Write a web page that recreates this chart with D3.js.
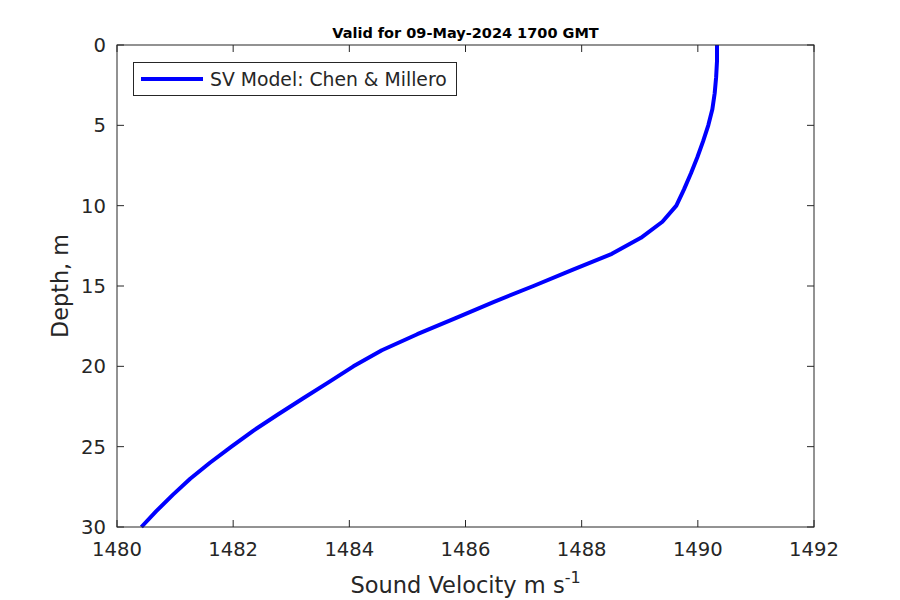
<!DOCTYPE html>
<html><head><meta charset="utf-8">
<script src="https://cdn.jsdelivr.net/npm/d3@7"></script>
<style>body{margin:0;background:#fff}svg{display:block}text{font-family:"DejaVu Sans",sans-serif;fill:#262626}</style>
</head><body>
<svg id="c" width="900" height="600"></svg>
<script>
const depths = [0,1,2,3,4,5,6,7,8,9,10,11,12,13,14,15,16,17,18,19,20,21,22,23,24,25,26,27,28,29,30];
const velocity = [1490.33,1490.33,1490.315,1490.29,1490.25,1490.18,1490.09,1489.99,1489.88,1489.76,1489.63,1489.39,1489.02,1488.52,1487.84,1487.17,1486.48,1485.83,1485.17,1484.56,1484.07,1483.64,1483.20,1482.77,1482.35,1481.97,1481.60,1481.26,1480.96,1480.68,1480.42];
const xTicks = [1480,1482,1484,1486,1488,1490,1492];
const yTicks = [0,5,10,15,20,25,30];
const titleText = "Valid for 09-May-2024 1700 GMT";
const legendText = "SV Model: Chen & Millero";

const svg = d3.select("#c");
const L=117,R=814,T=45,B=527;
const x = d3.scaleLinear().domain([1480,1492]).range([L,R]);
const y = d3.scaleLinear().domain([0,30]).range([T,B]);
const col="#262626";

// curve
const line = d3.line().x((d,i)=>x(velocity[i])).y(d=>y(d));
svg.append("path").datum(depths).attr("d",line).attr("fill","none")
  .attr("stroke","#0000ff").attr("stroke-width",4).attr("stroke-linejoin","round");

// axes box
svg.append("rect").attr("x",L).attr("y",T).attr("width",R-L).attr("height",B-T)
  .attr("fill","none").attr("stroke",col).attr("stroke-width",1);

const tl=7;
const gx=svg.append("g");
xTicks.forEach(t=>{
  gx.append("line").attr("x1",x(t)).attr("x2",x(t)).attr("y1",B).attr("y2",B-tl).attr("stroke",col);
  gx.append("line").attr("x1",x(t)).attr("x2",x(t)).attr("y1",T).attr("y2",T+tl).attr("stroke",col);
  gx.append("text").attr("x",x(t)).attr("y",B+29).attr("text-anchor","middle").attr("font-size",19.6).text(t);
});
const gy=svg.append("g");
yTicks.forEach(t=>{
  gy.append("line").attr("x1",L).attr("x2",L+tl).attr("y1",y(t)).attr("y2",y(t)).attr("stroke",col);
  gy.append("line").attr("x1",R).attr("x2",R-tl).attr("y1",y(t)).attr("y2",y(t)).attr("stroke",col);
  gy.append("text").attr("x",L-11).attr("y",y(t)).attr("dy","0.36em").attr("text-anchor","end").attr("font-size",19.6).text(t);
});

// labels
const xl=svg.append("text").attr("x",(L+R)/2).attr("y",593).attr("text-anchor","middle").attr("font-size",22.5);
xl.append("tspan").text("Sound Velocity m s");
xl.append("tspan").attr("dy",-10).attr("font-size",16).text("-1");
svg.append("text").attr("transform",`translate(68,${(T+B)/2}) rotate(-90)`).attr("text-anchor","middle").attr("font-size",22.3).text("Depth, m");
svg.append("text").attr("x",(L+R)/2).attr("y",38).attr("text-anchor","middle").attr("font-size",14.5).attr("font-weight","bold").style("fill","#000").text(titleText);

// legend
svg.append("rect").attr("x",133.5).attr("y",62.5).attr("width",323).attr("height",33).attr("fill","#fff").attr("stroke",col);
svg.append("line").attr("x1",141).attr("x2",203).attr("y1",79).attr("y2",79).attr("stroke","#0000ff").attr("stroke-width",4);
svg.append("text").attr("x",210).attr("y",79).attr("dy","0.36em").attr("font-size",18.8).text(legendText);
</script>
</body></html>
